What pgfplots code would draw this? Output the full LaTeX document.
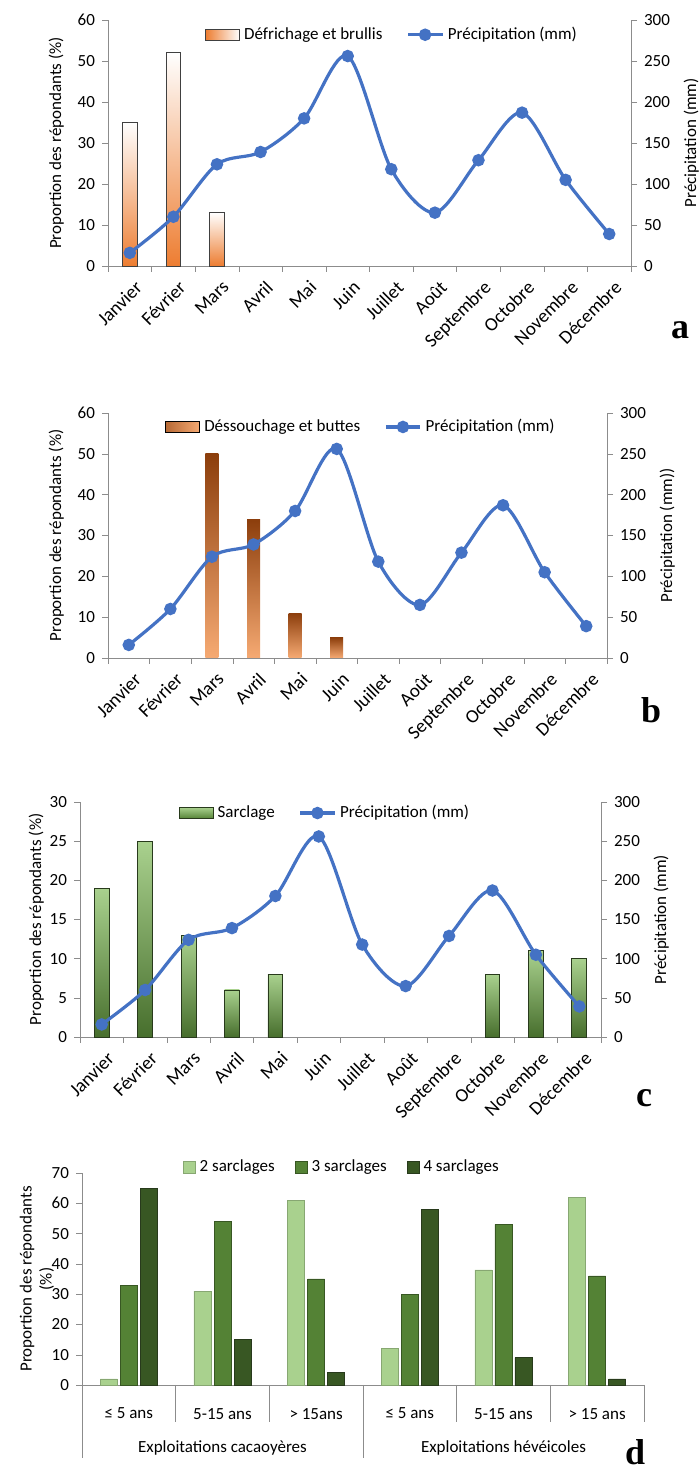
\documentclass[border=0pt]{standalone}
\usepackage{pgfplots}
\pgfplotsset{compat=1.18}
\usepackage{fontspec}
\setmainfont{Carlito}
\newfontfamily\lettre{Liberation Serif}

\definecolor{precip}{RGB}{68,114,196}
\definecolor{axisgray}{RGB}{140,140,140}
\definecolor{orangeA}{RGB}{237,125,49}
\definecolor{brownB}{RGB}{140,62,12}
\definecolor{orangeB}{RGB}{246,170,115}
\definecolor{greenlight}{RGB}{169,209,142}
\definecolor{greenmid}{RGB}{84,130,53}
\definecolor{greendark}{RGB}{56,87,35}
\definecolor{greenedge}{RGB}{40,58,28}

\pgfplotsset{
  every axis/.append style={
    scale only axis, clip=false,
    font=\fontsize{8.5}{10}\selectfont,
    /pgf/number format/assume math mode=true,
    axis line style={axisgray}, tick style={axisgray},
    tick align=outside, major tick length=3pt,
  },
  moisaxe/.style={
    xmin=0.5, xmax=12.5, ymin=0,
    axis y line*=left, axis x line*=bottom,
    xtick={0.5,1.5,...,12.5}, x tick label as interval,
    xticklabels={Janvier,Février,Mars,Avril,Mai,Juin,Juillet,Août,Septembre,Octobre,Novembre,Décembre},
    xticklabel style={rotate=45, anchor=north east, inner sep=1pt, yshift=-3pt,
      font=\fontsize{9.5}{10}\selectfont},
    ylabel={Proportion des répondants (\%)},
  },
  precipaxe/.style={
    xmin=0.5, xmax=12.5, ymin=0, ymax=300, ytick={0,50,...,300},
    axis y line*=right, axis x line=none,
    ylabel={Précipitation (mm)},
    legend columns=2,
    legend style={draw=none, fill=none, anchor=center,
      /tikz/every even column/.append style={column sep=10pt}},
  },
  pluie/.style={precip, line width=1.6pt, smooth, mark=*, mark size=2.3pt,
    mark options={fill=precip, solid}},
  barA/.style={ybar, bar shift=0pt, bar width=7.3pt, draw=black!75, top color=white, bottom color=orangeA},
  barB/.style={ybar, bar shift=0pt, bar width=6.5pt, draw=none, top color=brownB, bottom color=orangeB},
  barC/.style={ybar, bar shift=0pt, bar width=7.4pt, draw=greenedge, top color=greenlight, bottom color=greenmid!85!black},
}

\begin{document}
\begin{tikzpicture}
\path[use as bounding box] (0,0) rectangle (349.5pt,735pt);

% ---- a
\begin{axis}[moisaxe, at={(54pt,602pt)}, anchor=south west, width=261.5pt, height=123pt,
  ymax=60, ytick={0,10,...,60}]
\addplot[barA] coordinates {(1,35)};
\addplot[barA] coordinates {(2,52)};
\addplot[barA] coordinates {(3,13)};
\end{axis}
\begin{axis}[precipaxe, at={(54pt,602pt)}, anchor=south west, width=261.5pt, height=123pt,
  legend style={at={(0.545,0.94)}}]
\addlegendimage{area legend, draw=black!75, left color=orangeA, right color=white}
\addlegendentry{Défrichage  et brullis}
\addplot[pluie] coordinates {(1,16) (2,60) (3,124) (4,139) (5,180) (6,256) (7,118) (8,65) (9,129) (10,187) (11,105) (12,39)};
\addlegendentry{Précipitation (mm)}
\end{axis}
\node[font=\lettre\bfseries\fontsize{18}{18}\selectfont] at (340pt,570pt) {a};

% ---- b
\begin{axis}[moisaxe, at={(54pt,406pt)}, anchor=south west, width=249.5pt, height=122.5pt,
  ymax=60, ytick={0,10,...,60}]
\addplot[barB] coordinates {(3,50)};
\addplot[barB] coordinates {(4,34)};
\addplot[barB] coordinates {(5,11)};
\addplot[barB] coordinates {(6,5)};
\end{axis}
\begin{axis}[precipaxe, at={(54pt,406pt)}, anchor=south west, width=249.5pt, height=122.5pt,
  ylabel={Précipitation (mm))}, legend style={at={(0.509,0.943)}}]
\addlegendimage{area legend, draw=none, left color=brownB!60!orangeB, right color=orangeB}
\addlegendentry{Déssouchage et buttes}
\addplot[pluie] coordinates {(1,16) (2,60) (3,124) (4,139) (5,180) (6,256) (7,118) (8,65) (9,129) (10,187) (11,105) (12,39)};
\addlegendentry{Précipitation (mm)}
\end{axis}
\node[font=\lettre\bfseries\fontsize{18}{18}\selectfont] at (325.5pt,380pt) {b};

% ---- c
\begin{axis}[moisaxe, at={(40pt,216.5pt)}, anchor=south west, width=260.5pt, height=117.5pt,
  ymax=30, ytick={0,5,...,30}, ylabel style={yshift=-4pt}]
\addplot[barC] coordinates {(1,19)};
\addplot[barC] coordinates {(2,25)};
\addplot[barC] coordinates {(3,13)};
\addplot[barC] coordinates {(4,6)};
\addplot[barC] coordinates {(5,8)};
\addplot[barC] coordinates {(10,8)};
\addplot[barC] coordinates {(11,11)};
\addplot[barC] coordinates {(12,10)};
\end{axis}
\begin{axis}[precipaxe, at={(40pt,216.5pt)}, anchor=south west, width=260.5pt, height=117.5pt,
  legend style={at={(0.472,0.953)}}]
\addlegendimage{area legend, draw=greenedge, top color=greenlight, bottom color=greenmid}
\addlegendentry{Sarclage}
\addplot[pluie] coordinates {(1,16) (2,60) (3,124) (4,139) (5,180) (6,256) (7,118) (8,65) (9,129) (10,187) (11,105) (12,39)};
\addlegendentry{Précipitation (mm)}
\end{axis}
\node[font=\lettre\bfseries\fontsize{18}{18}\selectfont] at (322pt,186pt) {c};

% ---- d
\begin{axis}[at={(41pt,42.5pt)}, anchor=south west, width=281pt, height=106pt,
  ybar=1.5pt, bar width=8.5pt,
  xmin=0.5, xmax=6.5, ymin=0, ymax=70, ytick={0,10,...,70},
  axis y line*=left, axis x line*=bottom,
  xtick={0.5,1.5,...,6.5}, x tick label as interval,
  xticklabels={{≤ 5 ans},{5-15 ans},{> 15ans},{≤ 5 ans},{5-15 ans},{> 15 ans}},
  xticklabel style={yshift=-5pt},
  x tick style={draw=none},
  ylabel={Proportion des répondants\\(\%)}, ylabel style={align=center, yshift=-8pt},
  legend columns=3,
  legend style={draw=none, fill=none, anchor=center, at={(0.464,1.028)},
    /tikz/every even column/.append style={column sep=8pt}},
  legend image code/.code={\draw[#1] (0pt,-3pt) rectangle (6pt,3pt);},
]
\addplot[fill=greenlight, draw=greenmid!70] coordinates {(1,2) (2,31) (3,61) (4,12) (5,38) (6,62)};
\addlegendentry{2 sarclages}
\addplot[fill=greenmid, draw=greendark] coordinates {(1,33) (2,54) (3,35) (4,30) (5,53) (6,36)};
\addlegendentry{3 sarclages}
\addplot[fill=greendark, draw=greenedge] coordinates {(1,65) (2,15) (3,4) (4,58) (5,9) (6,2)};
\addlegendentry{4 sarclages}
\draw[axisgray] (axis cs:0.5,0) -- ++(0pt,-36.5pt);
\draw[axisgray] (axis cs:3.5,0) -- ++(0pt,-36.5pt);
\draw[axisgray] (axis cs:1.5,0) -- ++(0pt,-18.5pt);
\draw[axisgray] (axis cs:2.5,0) -- ++(0pt,-18.5pt);
\draw[axisgray] (axis cs:4.5,0) -- ++(0pt,-18.5pt);
\draw[axisgray] (axis cs:5.5,0) -- ++(0pt,-18.5pt);
\draw[axisgray] (axis cs:6.5,0) -- ++(0pt,-18.5pt);
\node at (axis cs:2,0) [yshift=-31.5pt] {Exploitations cacaoyères};
\node at (axis cs:5,0) [yshift=-31.5pt] {Exploitations hévéicoles};
\end{axis}
\node[font=\lettre\bfseries\fontsize{18}{18}\selectfont] at (317.5pt,9pt) {d};
\end{tikzpicture}
\end{document}
